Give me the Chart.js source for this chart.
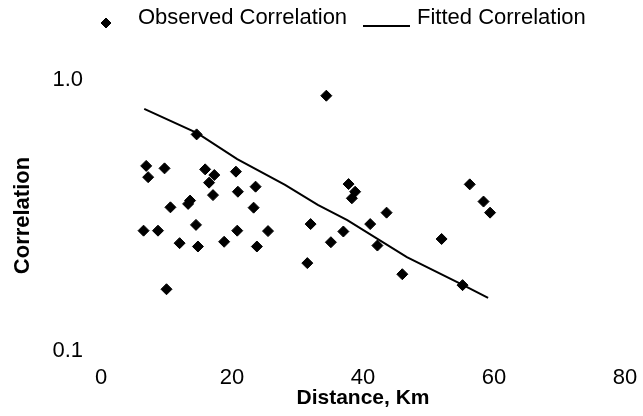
<!DOCTYPE html>
<html>
<head>
<meta charset="utf-8">
<script src="https://cdn.jsdelivr.net/npm/chart.js@4.4.1/dist/chart.umd.min.js"></script>
<style>
    html, body { margin: 0; padding: 0; background: #fff; }
</style>
</head>
<body>
<canvas id="corrChart" width="643" height="416"></canvas>
<script>
// observed correlation vs distance
var observedDistance = [6.5, 6.9, 7.2, 8.7, 9.7, 10.0, 10.6, 12.0, 13.3, 13.6, 14.5, 14.6, 14.8, 15.9,
    16.5, 17.1, 17.3, 18.8, 20.6, 20.8, 20.9, 23.3, 23.6, 23.8, 25.5, 31.5, 32.0, 34.4, 35.1, 37.0,
    37.8, 38.3, 38.8, 41.1, 42.2, 43.6, 46.0, 52.0, 55.2, 56.3, 58.4, 59.4];
var observedCorrelation = [0.278, 0.482, 0.438, 0.278, 0.472, 0.169, 0.339, 0.250, 0.349, 0.359, 0.292, 0.630, 0.243, 0.468,
    0.418, 0.376, 0.446, 0.253, 0.459, 0.278, 0.387, 0.338, 0.404, 0.243, 0.277, 0.211, 0.294, 0.875, 0.252, 0.276,
    0.413, 0.366, 0.387, 0.294, 0.245, 0.324, 0.192, 0.259, 0.175, 0.412, 0.356, 0.324];

// fitted curve
var fittedDistance = [6.6, 14.7, 20.8, 28.1, 33.1, 37.6, 46.7, 55.3, 59.1];
var fittedCorrelation = [0.782, 0.637, 0.511, 0.410, 0.346, 0.304, 0.222, 0.175, 0.157];

var xTicks = [0, 20, 40, 60, 80];
var yTicks = [0.1, 1.0];

var fontFamily = '"Liberation Sans", Arial, sans-serif';

function toPoints(xs, ys) {
    return xs.map(function (x, i) { return { x: x, y: ys[i] }; });
}

// simple legend drawn on top, like the original figure
var plainLegend = {
    id: 'plainLegend',
    afterDraw: function (chart) {
        var ctx = chart.ctx;
        var ds = chart.data.datasets;
        ctx.save();
        ctx.fillStyle = '#000';
        ctx.strokeStyle = '#000';
        Chart.helpers.drawPoint(ctx, { pointStyle: 'rectRot', radius: 5, borderWidth: 1 }, 106, 23);
        ctx.font = '22px ' + fontFamily;
        ctx.textBaseline = 'middle';
        ctx.textAlign = 'left';
        ctx.fillText(ds[0].label, 138, 18);
        ctx.lineWidth = 2;
        ctx.beginPath();
        ctx.moveTo(363, 26);
        ctx.lineTo(410, 26);
        ctx.stroke();
        ctx.fillText(ds[1].label, 417, 18);
        ctx.restore();
    }
};

var ctx = document.getElementById('corrChart').getContext('2d');
var chart = new Chart(ctx, {
    type: 'scatter',
    data: {
        datasets: [{
            label: 'Observed Correlation',
            data: toPoints(observedDistance, observedCorrelation),
            pointStyle: 'rectRot',
            pointRadius: 5.5,
            pointHoverRadius: 5.5,
            borderWidth: 1,
            backgroundColor: '#000',
            borderColor: '#000'
        }, {
            label: 'Fitted Correlation',
            data: toPoints(fittedDistance, fittedCorrelation),
            showLine: true,
            pointRadius: 0,
            borderColor: '#000',
            borderWidth: 2,
            tension: 0,
            fill: false
        }]
    },
    options: {
        responsive: false,
        animation: false,
        devicePixelRatio: 1,
        layout: { padding: { top: 80, right: 18, bottom: 0, left: 0 } },
        plugins: {
            legend: { display: false },
            tooltip: { enabled: false }
        },
        scales: {
            x: {
                type: 'linear',
                min: 0,
                max: 80,
                afterBuildTicks: function (scale) {
                    scale.ticks = xTicks.map(function (v) { return { value: v }; });
                },
                afterFit: function (scale) {
                    scale.height = 65;
                    scale.paddingLeft = 0;
                    scale.paddingRight = 0;
                },
                grid: { display: false, drawTicks: false },
                border: { display: false },
                ticks: {
                    padding: 16,
                    color: '#000',
                    font: { family: fontFamily, size: 22, lineHeight: 1 }
                },
                title: {
                    display: true,
                    text: 'Distance, Km',
                    color: '#000',
                    padding: { top: 0, bottom: 7 },
                    font: { family: fontFamily, size: 21, weight: 'bold', lineHeight: 1 }
                }
            },
            y: {
                type: 'logarithmic',
                min: 0.1,
                max: 1.0,
                afterBuildTicks: function (scale) {
                    scale.ticks = yTicks.map(function (v) { return { value: v }; });
                },
                afterFit: function (scale) {
                    scale.width = 101;
                    scale.paddingTop = 0;
                    scale.paddingBottom = 0;
                },
                grid: { display: false, drawTicks: false },
                border: { display: false },
                ticks: {
                    padding: 18,
                    color: '#000',
                    font: { family: fontFamily, size: 22, lineHeight: 1 },
                    callback: function (value) { return Number(value).toFixed(1); }
                },
                title: {
                    display: true,
                    text: 'Correlation',
                    color: '#000',
                    padding: { top: 12, bottom: 0 },
                    font: { family: fontFamily, size: 22, weight: 'bold', lineHeight: 1 }
                }
            }
        }
    },
    plugins: [plainLegend]
});
</script>
</body>
</html>
